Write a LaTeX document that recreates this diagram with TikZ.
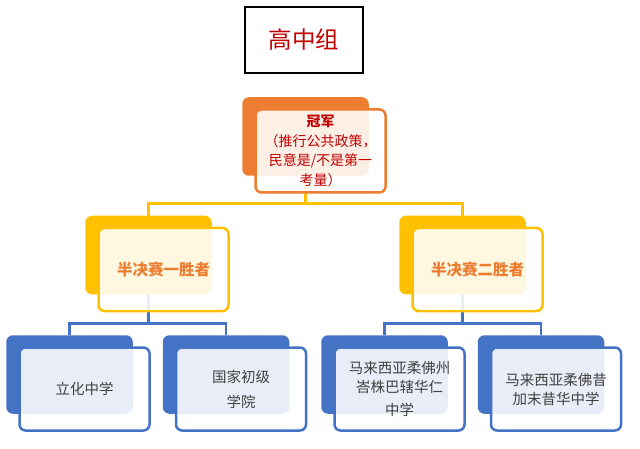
\documentclass[tikz,border=0pt]{standalone}
\usepackage{fontspec}
\newfontfamily\cjk{Noto Sans CJK SC}
\usetikzlibrary{positioning}
\definecolor{champorange}{HTML}{ED7D31}
\definecolor{semigold}{HTML}{FFC000}
\definecolor{schoolblue}{HTML}{4472C4}
\definecolor{champred}{HTML}{C00000}
\definecolor{schooltext}{HTML}{404040}

\tikzset{
  backbox/.style={draw=#1,fill=#1,rounded corners=6pt,line width=1.5pt,
    minimum width=125pt,minimum height=77pt,inner sep=0pt},
  frontbox/.style={draw=#1,fill=white,fill opacity=0.88,text opacity=1,
    rounded corners=6pt,line width=2.5pt,minimum width=130pt,
    minimum height=83pt,inner sep=1pt,align=center},
  link/.style={draw=#1,line width=2.5pt}
}

\begin{document}
\begin{tikzpicture}[x=1pt,y=-1pt,font=\cjk\fontsize{14.5}{19}\selectfont]
\useasboundingbox (0,0) rectangle (640,449);
% title
\node[draw,line width=2.2pt,minimum width=118pt,minimum height=66pt,
  text=champred,font=\cjk\fontsize{23.5}{26}\selectfont] (title) at (304,40) {高中组};
% back boxes
\node[backbox=champorange] (champ) at (305.5,136.5) {};
\node[backbox=semigold] (semiA) at (148.5,255) {};
\node[backbox=semigold] (semiB) at (462.5,255) {};
\node[backbox=schoolblue] (schA) at (69.5,374.5) {};
\node[backbox=schoolblue] (schB) at (226,374.5) {};
\node[backbox=schoolblue] (schC) at (384.5,374.5) {};
\node[backbox=schoolblue] (schD) at (541,374.5) {};
% connectors
\draw[link=semigold] (champ.south) -- ++(0,28) -| (semiA.north);
\draw[link=semigold] (champ.south) -- ++(0,28) -| (semiB.north);
\draw[link=schoolblue] (semiA.south) -- ++(0,29) -| (schA.north);
\draw[link=schoolblue] (semiA.south) -- ++(0,29) -| (schB.north);
\draw[link=schoolblue] (semiB.south) -- ++(0,29) -| (schC.north);
\draw[link=schoolblue] (semiB.south) -- ++(0,29) -| (schD.north);
% front boxes
\node[frontbox=champorange,text=champred,below right=11pt and 12pt of champ.north west,
  font=\cjk\fontsize{14}{19.5}\selectfont] (champ-f)
  {\textbf{冠军}\\（推行公共政策，\\民意是/不是第一\\考量）};
\node[frontbox=semigold,text=champorange,below right=11pt and 12pt of semiA.north west,
  font=\cjk\fontsize{15.5}{19}\selectfont] (semiA-f)
  {\bfseries 半决赛一胜者};
\node[frontbox=semigold,text=champorange,below right=11pt and 12pt of semiB.north west,
  font=\cjk\fontsize{15.5}{19}\selectfont] (semiB-f)
  {\bfseries 半决赛二胜者};
\node[frontbox=schoolblue,text=schooltext,below right=11pt and 12pt of schA.north west] (schA-f)
  {立化中学};
\node[frontbox=schoolblue,text=schooltext,below right=11pt and 12pt of schB.north west] (schB-f)
  {国家初级\\[6pt]学院};
\node[frontbox=schoolblue,text=schooltext,below right=11pt and 12pt of schC.north west] (schC-f)
  {马来西亚柔佛州\\峇株巴辖华仁\\[4pt]中学};
\node[frontbox=schoolblue,text=schooltext,below right=11pt and 12pt of schD.north west] (schD-f)
  {马来西亚柔佛昔\\加末昔华中学};
\end{tikzpicture}
\end{document}
